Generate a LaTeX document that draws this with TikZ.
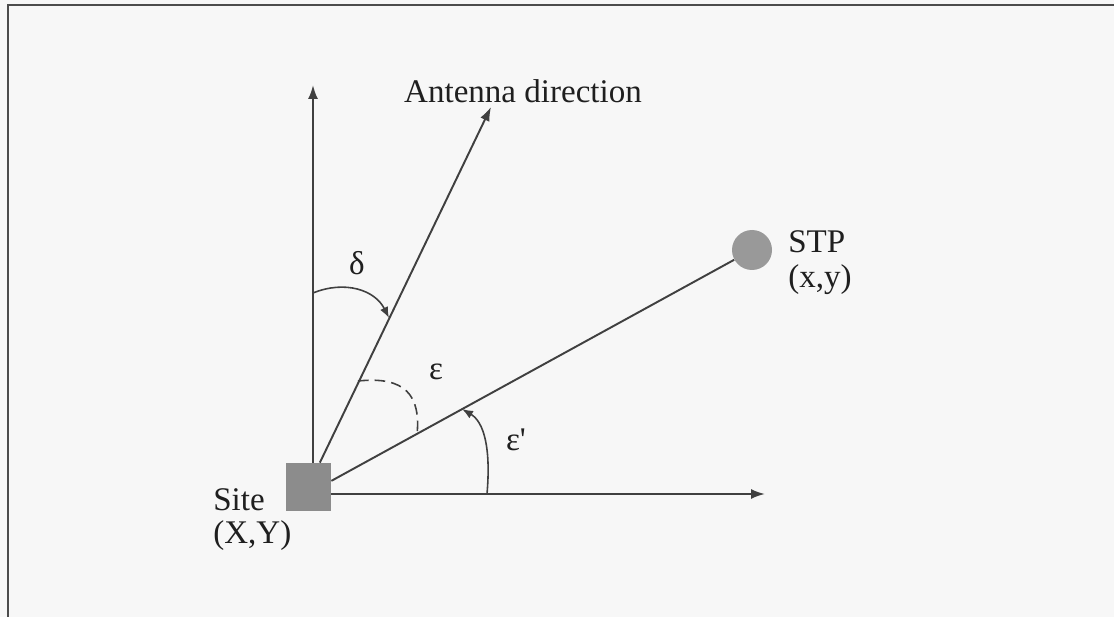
\documentclass[tikz,border=0pt]{standalone}
\usepackage{fontspec}
\setmainfont{Liberation Serif}
\usetikzlibrary{positioning,arrows,arrows.meta}

\tikzset{
	lbl/.style={inner sep=0pt, text=black!88, font=\fontsize{18.8}{20}\selectfont},
	axisline/.style={line width=1.1pt, draw=black!75, >={Latex[length=0.28cm, width=0.2cm]}},
	anglearc/.style={line width=0.9pt, draw=black!75, >={Latex[length=0.22cm, width=0.17cm]}},
}

\begin{document}
\begin{tikzpicture}[x=0.02cm, y=-0.02cm]
			\fill[black!3] (0,0) rectangle (1114,617);
			\useasboundingbox (0,0) rectangle (1114,617);
			\draw[line width=1.2pt, black!70] (8,617) -- (8,5) -- (1114,5);

			\node[fill=black!45, minimum width=0.9cm, minimum height=0.96cm, inner sep=0pt] (site) at (308.5,487) {};
			\node[circle, fill=black!40, minimum size=0.8cm, inner sep=0pt] (stp) at (752,250) {};

			\coordinate (ytip) at (313,85);
			\coordinate (xtip) at (765,494);
			\coordinate (anttip) at (491,107);

			\draw[axisline, ->] (site.north -| ytip) -- (ytip);
			\draw[axisline, ->] (site.east |- xtip) -- (xtip);
			\draw[axisline, ->] (site.65) -- (anttip);
			\draw[axisline] (site.15) -- (stp);

			\draw[anglearc, ->] (313,293) .. controls (345,280) and (375,290) .. (389,318);
			\draw[anglearc, dash pattern=on 6pt off 3.5pt] (358,381) .. controls (405,376) and (421,395) .. (417,435);
			\draw[anglearc, ->] (487,494) .. controls (491,448) and (484,422) .. (462,409);

			\node[lbl, anchor=base] (antlbl) at (523,103) {Antenna direction};
			\node[lbl, anchor=base] (delta) at (357,275) {δ};
			\node[lbl, anchor=base] (eps) at (436,380) {ε};
			\node[lbl, anchor=base] (epsp) at (516,450) {ε\textquotesingle};
			\node[lbl, anchor=base west] (stplbl) at (788,253) {STP};
			\node[lbl, anchor=base west] (stpxy) at (788,288) {(x,y)};
			\node[lbl, anchor=base west] (sitelbl) at (213,510) {Site};
			\node[lbl, anchor=base west] (sitexy) at (213,543) {(X,Y)};
		\end{tikzpicture}
\end{document}
